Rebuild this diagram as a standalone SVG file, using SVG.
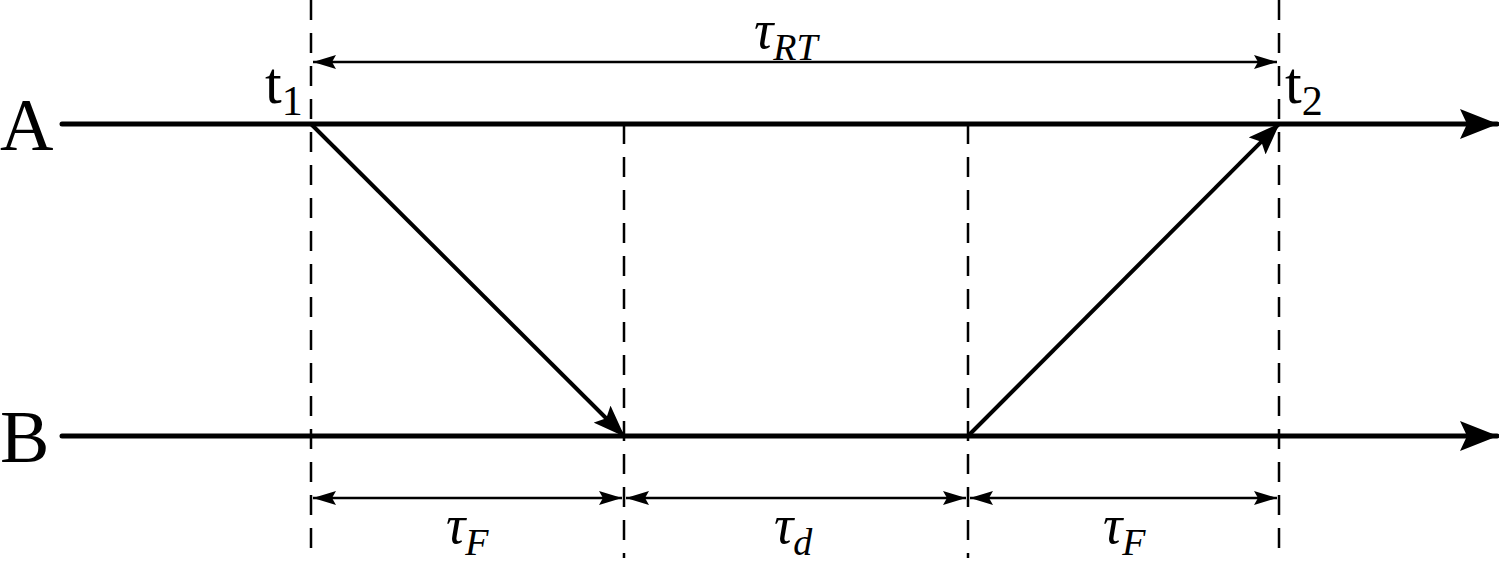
<svg xmlns="http://www.w3.org/2000/svg" width="1499" height="564" viewBox="0 0 1499 564">
<style>
.dash{stroke:#000;stroke-width:2.5;stroke-dasharray:20 13;fill:none}
.axis{stroke:#000;stroke-width:5;fill:none}
.diag{stroke:#000;stroke-width:4;fill:none}
.dim{stroke:#000;stroke-width:2.5;fill:none}
.lbl{font-family:"Liberation Serif","DejaVu Serif",serif;fill:#000}
.tau{font-family:"Liberation Serif","DejaVu Serif",serif;font-style:italic;fill:#000}
</style>
<defs>
<marker id="big" viewBox="0 0 38 30" refX="37" refY="15" markerWidth="38" markerHeight="30" markerUnits="userSpaceOnUse" orient="auto">
<path d="M0,0 L38,15 L0,30 L7,15 Z" fill="#000"/>
</marker>
<marker id="diagh" viewBox="0 0 32 24" refX="31" refY="12" markerWidth="32" markerHeight="24" markerUnits="userSpaceOnUse" orient="auto">
<path d="M0,0 L32,12 L0,24 L6,12 Z" fill="#000"/>
</marker>
<marker id="sm" viewBox="0 0 23 14" refX="23" refY="7" markerWidth="23" markerHeight="14" markerUnits="userSpaceOnUse" orient="auto-start-reverse">
<path d="M0,0 L23,7 L0,14 L4,7 Z" fill="#000"/>
</marker>
</defs>
<g id="guides">
<line class="dash" x1="311" y1="0" x2="311" y2="548"/>
<line class="dash" x1="624" y1="124" x2="624" y2="558"/>
<line class="dash" x1="968" y1="124" x2="968" y2="558"/>
<line class="dash" x1="1279" y1="0" x2="1279" y2="548"/>
</g>
<g id="lineA">
<line class="axis" x1="62" y1="124" x2="1497" y2="124" stroke-linecap="round" marker-end="url(#big)"/>
<text class="lbl" x="0" y="150" font-size="74">A</text>
</g>
<g id="lineB">
<line class="axis" x1="62" y1="436" x2="1497" y2="436" stroke-linecap="round" marker-end="url(#big)"/>
<text class="lbl" x="0" y="462" font-size="74">B</text>
</g>
<g id="connectors">
<line class="diag" x1="311" y1="124" x2="624" y2="436" marker-end="url(#diagh)"/>
<line class="diag" x1="968" y1="436" x2="1279" y2="124" marker-end="url(#diagh)"/>
<line class="dim" x1="313" y1="62" x2="1277" y2="62" marker-start="url(#sm)" marker-end="url(#sm)"/>
<line class="dim" x1="313" y1="498" x2="622" y2="498" marker-start="url(#sm)" marker-end="url(#sm)"/>
<line class="dim" x1="626" y1="498" x2="966" y2="498" marker-start="url(#sm)" marker-end="url(#sm)"/>
<line class="dim" x1="970" y1="498" x2="1277" y2="498" marker-start="url(#sm)" marker-end="url(#sm)"/>
</g>
<g id="t1">
<text class="lbl" x="265" y="103" font-size="60">t<tspan font-size="42" dy="12">1</tspan></text>
</g>
<g id="t2">
<text class="lbl" x="1285" y="103" font-size="60">t<tspan font-size="42" dy="12">2</tspan></text>
</g>
<g id="tauRT">
<text class="tau" x="754" y="48" font-size="54">τ<tspan font-size="38" dy="12">RT</tspan></text>
</g>
<g id="tauF1">
<text class="tau" x="446" y="543" font-size="54">τ<tspan font-size="38" dy="12">F</tspan></text>
</g>
<g id="tauD">
<text class="tau" x="774" y="543" font-size="54">τ<tspan font-size="38" dy="12">d</tspan></text>
</g>
<g id="tauF2">
<text class="tau" x="1103" y="543" font-size="54">τ<tspan font-size="38" dy="12">F</tspan></text>
</g>
</svg>
